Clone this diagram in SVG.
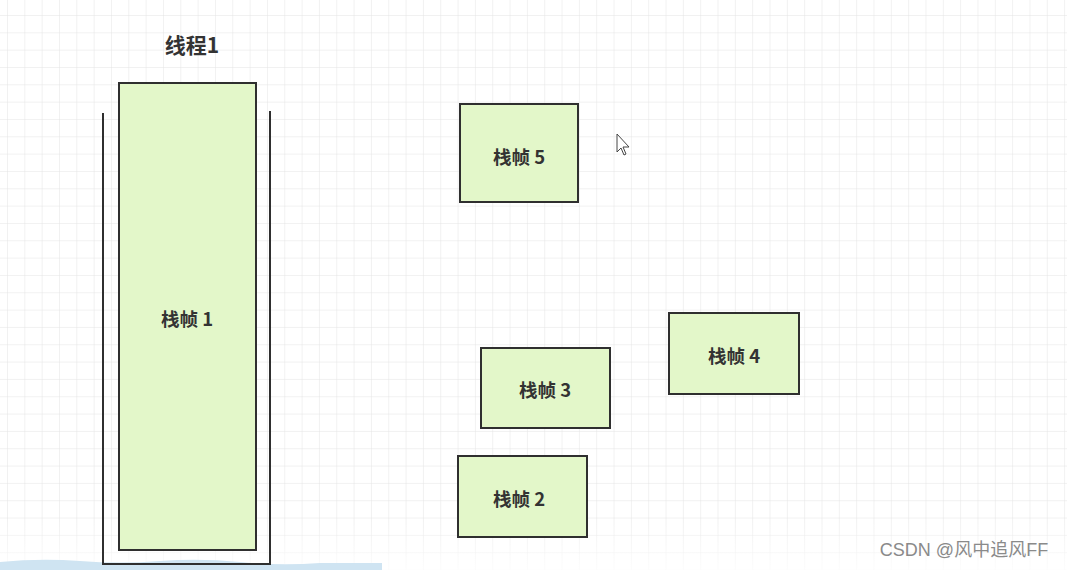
<svg xmlns="http://www.w3.org/2000/svg" width="1067" height="570" viewBox="0 0 1067 570">
<style>
.frame{fill:#e3f7c9;stroke:#2f2f2f;stroke-width:2}
.lbl{font-family:"Noto Sans CJK SC","Liberation Sans",sans-serif;font-weight:bold;font-size:18.5px;fill:#333;text-anchor:middle;dominant-baseline:central}
.wall{fill:none;stroke:#2f2f2f;stroke-width:2}
</style>
<defs>
<pattern id="grid" x="7" y="15" width="17.33" height="17.33" patternUnits="userSpaceOnUse">
<path d="M0 0H17.33M0 0V17.33" fill="none" stroke="#e3e3e3" stroke-width="1"/>
</pattern>
<linearGradient id="fade" x1="0" y1="0" x2="0" y2="1">
<stop offset="0" stop-color="#fff" stop-opacity="0"/>
<stop offset="1" stop-color="#fff" stop-opacity="0.8"/>
</linearGradient>
</defs>
<rect width="1067" height="570" fill="#fff"/>
<rect width="1067" height="570" fill="url(#grid)"/>
<rect x="0" y="520" width="1067" height="50" fill="url(#fade)"/>
<path d="M0 562 Q40 558 80 561 T160 561 T240 562 T320 563 L382 563 L382 570 L0 570Z" fill="#cfe4f2"/>
<text x="192" y="44" class="lbl" style="font-size:21px">线程1</text>
<g id="thread1">
<path class="wall" d="M103 113V564H270V111"/>
</g>
<g id="frame1">
<rect class="frame" x="119" y="83" width="137" height="467"/>
<text class="lbl" x="187" y="318">栈帧 1</text>
</g>
<g id="frame5">
<rect class="frame" x="460" y="104" width="118" height="98"/>
<text class="lbl" x="519" y="156">栈帧 5</text>
</g>
<g id="frame3">
<rect class="frame" x="481" y="348" width="129" height="80"/>
<text class="lbl" x="545" y="389">栈帧 3</text>
</g>
<g id="frame4">
<rect class="frame" x="669" y="313" width="130" height="81"/>
<text class="lbl" x="734" y="355">栈帧 4</text>
</g>
<g id="frame2">
<rect class="frame" x="458" y="456" width="129" height="81"/>
<text class="lbl" x="519" y="498">栈帧 2</text>
</g>
<g id="connectors"></g>
<path d="M617 134V152L621 148L624 155L626 154L623 147L629 147Z" fill="#fff" stroke="#444" stroke-width="1"/>
<text x="964" y="550" style="font-family:'Liberation Sans','Noto Sans CJK SC',sans-serif;font-size:18px;fill:#8a8a8a;text-anchor:middle;dominant-baseline:central">CSDN @风中追风FF</text>
</svg>
